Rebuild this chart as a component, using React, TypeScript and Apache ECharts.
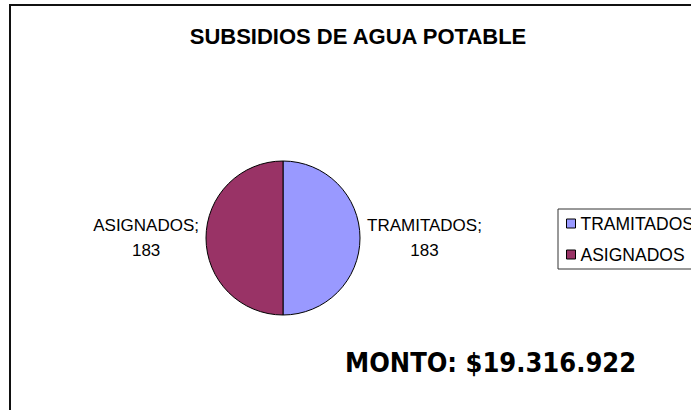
import React, { useEffect, useRef } from "react";
import * as echarts from "echarts";

const titleText = "SUBSIDIOS DE AGUA POTABLE";
const categories = ["TRAMITADOS", "ASIGNADOS"];
const values = [183, 183];
const colors = ["#9999FF", "#993366"];
const amountText = "MONTO: $19.316.922";

export default function App() {
  const ref = useRef<HTMLDivElement>(null);
  useEffect(() => {
    if (!ref.current) return;
    const chart = echarts.init(ref.current, null, { renderer: "svg" });
    const font = "'Liberation Sans', Arial, sans-serif";
    chart.setOption({
      animation: false,
      backgroundColor: "#ffffff",
      title: {
        text: titleText,
        left: 358,
        textAlign: "center",
        top: 25,
        padding: 0,
        textStyle: { fontFamily: font, fontWeight: "bold", fontSize: 22, color: "#000" },
      },
      legend: {
        orient: "vertical",
        left: 558,
        top: 209,
        padding: [5.5, 20, 5.5, 8],
        itemWidth: 9,
        itemHeight: 9,
        itemGap: 13,
        icon: "rect",
        borderColor: "#333",
        borderWidth: 1,
        data: categories,
        itemStyle: { borderColor: "#000", borderWidth: 1 },
        textStyle: { fontFamily: font, fontSize: 17.5, color: "#000", lineHeight: 17 },
      },
      graphic: [
        {
          type: "rect",
          shape: { x: 10, y: 5, width: 800, height: 500 },
          style: { fill: "none", stroke: "#111", lineWidth: 2 },
          silent: true,
        },
        {
          type: "text",
          x: 345,
          y: 362,
          style: {
            text: amountText,
            fontFamily: "'DejaVu Sans Condensed', 'DejaVu Sans', sans-serif",
            fontWeight: "bold",
            fontSize: 27,
            fill: "#000",
            textVerticalAlign: "middle",
            textAlign: "left",
          },
        },
      ],
      series: [
        {
          type: "pie",
          center: [283, 238],
          radius: 77,
          startAngle: 90,
          clockwise: true,
          data: categories.map((name, i) => ({
            name,
            value: values[i],
            itemStyle: { color: colors[i] },
          })),
          itemStyle: { borderColor: "#000", borderWidth: 1 },
          label: {
            show: true,
            position: "outside",
            formatter: "{a|{b};}\n{a|{c}}",
            color: "#000",
            fontFamily: font,
            fontSize: 17,
            rich: {
              a: { align: "center", fontFamily: font, fontSize: 17, lineHeight: 25, color: "#000" },
            },
          },
          labelLine: { show: false, length: 2, length2: 0 },
          emphasis: { disabled: true },
        },
      ],
    });
    return () => chart.dispose();
  }, []);
  return (
    <div
      ref={ref}
      style={{ position: "fixed", left: 0, top: 0, width: 691, height: 410 }}
    />
  );
}
